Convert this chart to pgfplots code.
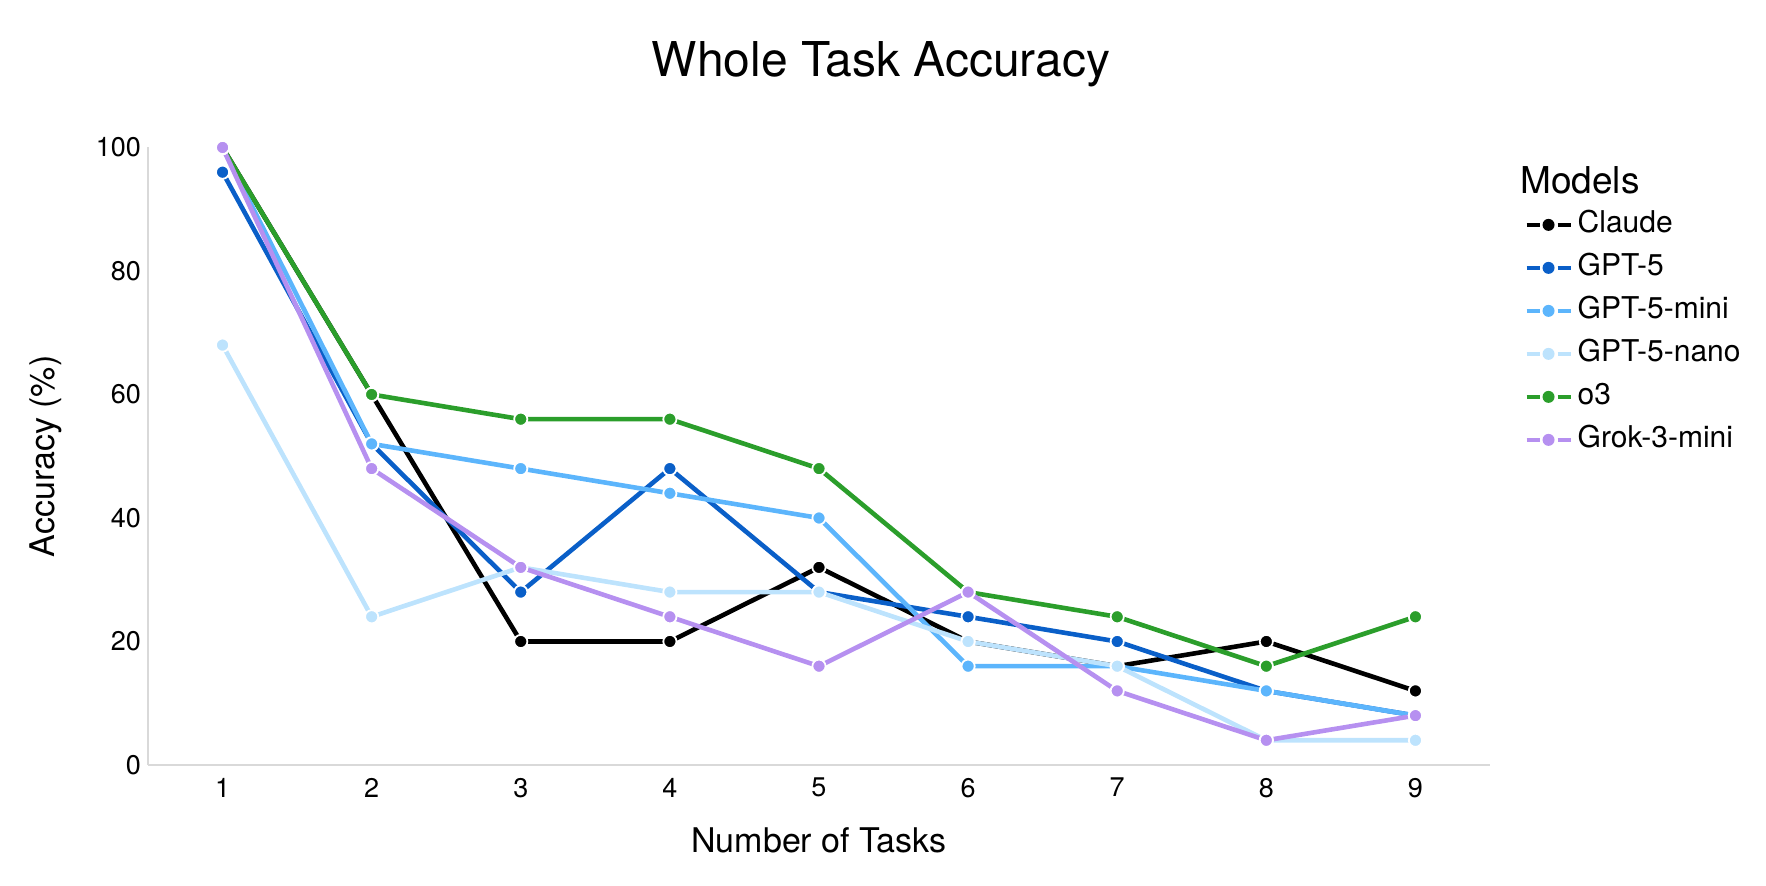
\documentclass[border=0pt]{standalone}
\usepackage{fontspec}
\setmainfont{TeX Gyre Heros}
\usepackage{pgfplots}
\pgfplotsset{compat=1.18}
\definecolor{cClaude}{HTML}{000000}
\definecolor{cGPT}{HTML}{0A5FC8}
\definecolor{cMini}{HTML}{5CB5FC}
\definecolor{cNano}{HTML}{BDE3FD}
\definecolor{cO}{HTML}{2B9E2B}
\definecolor{cGrok}{HTML}{B690F0}
\pgfplotsset{
  ser/.style={color=#1, line width=2.3pt, mark=*, mark size=3.3pt,
    mark options={solid, fill=#1, draw=white, line width=0.9pt}},
}
\begin{document}
\begin{tikzpicture}
\path[use as bounding box] (-74pt,-60.5pt) rectangle (809pt,382.5pt);
\begin{axis}[
  at={(0pt,0pt)}, anchor=south west,
  scale only axis, width=671pt, height=308.75pt,
  xmin=0.5, xmax=9.5, ymin=0, ymax=100,
  xtick={1,...,9}, ytick={0,20,...,100},
  major tick length=0pt,
  axis lines=left,
  axis line style={-, draw=black!15, line width=0.6pt},
  /pgf/number format/assume math mode=true,
  tick label style={font=\fontsize{13.5}{16}\selectfont},
  xticklabel style={yshift=-3pt},
  xlabel={Number of Tasks}, ylabel={Accuracy (\%)},
  every axis x label/.style={at={(axis description cs:0.5,-0.1425)}, anchor=base, font=\fontsize{17}{20}\selectfont},
  every axis y label/.style={at={(axis description cs:-0.076,0.5)}, anchor=center, rotate=90, font=\fontsize{17}{20}\selectfont},
  clip=false,
  legend cell align=left,
  legend style={at={(axis description cs:1.0253,0.898)}, anchor=north west,
    draw=none, fill=none, inner sep=0pt, row sep=7.5pt, column sep=2.5pt,
    font=\fontsize{15}{18}\selectfont,
    nodes={inner sep=0pt, text height=11pt, text depth=3pt}},
  legend image code/.code={
    \draw[#1, mark=none, line width=2.2pt] (0pt,0pt) -- (6.5pt,0pt);
    \draw[#1, mark=none, line width=2.2pt] (15.5pt,0pt) -- (22pt,0pt);
    \fill[#1, mark=none, draw=none] (11pt,0pt) circle (3pt);
  },
]
\addplot[ser=cClaude] coordinates {(1,100)(2,60)(3,20)(4,20)(5,32)(6,20)(7,16)(8,20)(9,12)};
\addlegendentry{Claude}
\addplot[ser=cGPT] coordinates {(1,96)(2,52)(3,28)(4,48)(5,28)(6,24)(7,20)(8,12)(9,8)};
\addlegendentry{GPT-5}
\addplot[ser=cMini] coordinates {(1,100)(2,52)(3,48)(4,44)(5,40)(6,16)(7,16)(8,12)(9,8)};
\addlegendentry{GPT-5-mini}
\addplot[ser=cNano] coordinates {(1,68)(2,24)(3,32)(4,28)(5,28)(6,20)(7,16)(8,4)(9,4)};
\addlegendentry{GPT-5-nano}
\addplot[ser=cO] coordinates {(1,100)(2,60)(3,56)(4,56)(5,48)(6,28)(7,24)(8,16)(9,24)};
\addlegendentry{o3}
\addplot[ser=cGrok] coordinates {(1,100)(2,48)(3,32)(4,24)(5,16)(6,28)(7,12)(8,4)(9,8)};
\addlegendentry{Grok-3-mini}
\end{axis}
\node[anchor=base, font=\fontsize{24}{29}\selectfont] at (366.5pt,344pt) {Whole Task Accuracy};
\node[anchor=base west, inner sep=0pt, font=\fontsize{18.5}{22}\selectfont] at (686pt,285.6pt) {Models};
\end{tikzpicture}
\end{document}
